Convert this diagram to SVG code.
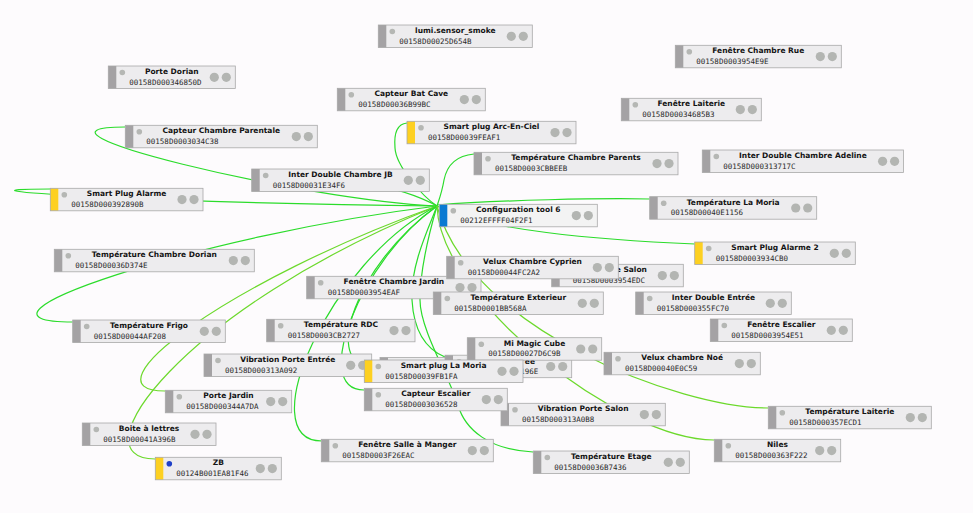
<svg xmlns="http://www.w3.org/2000/svg" width="973" height="513" viewBox="0 0 973 513">
<style>
.bg{fill:#fdfbfd}
.bx{fill:#edecee}
.ol{fill:none;stroke:#a9a9a9;stroke-width:0.8}
.br{fill:#a4a2a4}
.yl{fill:#fdd021}
.bl{fill:#0a7ad2}
.d{fill:#b5b7b4}
.db{fill:#1f40c8}
.p{fill:#b3b5b2}
.t{font-family:"DejaVu Sans",Verdana,sans-serif;font-weight:bold;font-size:7.5px;fill:#141414;text-anchor:middle}
.i{font-family:"DejaVu Sans Mono","Liberation Mono",monospace;font-size:7.5px;fill:#2a2a2a}
.e1{fill:none;stroke:#2bdc2b;stroke-width:1.2}
.e2{fill:none;stroke:#6cd92c;stroke-width:1.2}
</style>
<rect class="bg" width="973" height="513"/>
<g id="edges">
<path class="e1" d="M125,127 C0,127 300,200 437,206"/>
<path class="e1" d="M50,189 C-75,189 150,203 437,206"/>
<path class="e1" d="M252,171 C320,171 400,185 437,206"/>
<path class="e1" d="M407,123 C396,124 394,136 395,148 C396,166 422,196 437,206"/>
<path class="e1" d="M474,154 C452,156 446,170 444,180 C442,192 439,200 437,206"/>
<path class="e1" d="M437,205 C500,200 600,198 650,199"/>
<path class="e1" d="M437,206 C480,230 600,240 695,244"/>
<path class="e1" d="M73,322 C-60,322 200,235 437,206"/>
<path class="e2" d="M165,391 C80,391 230,280 437,206"/>
<path class="e2" d="M155,459 C75,459 180,310 437,206"/>
<path class="e1" d="M322,441 C250,441 330,260 437,206"/>
<path class="e1" d="M364,390 C310,390 360,260 437,206"/>
<path class="e1" d="M364,362 C330,362 350,270 437,206"/>
<path class="e1" d="M533,452 C490,450 465,430 458,405 C451,380 420,330 420,300 C420,270 430,230 437,206"/>
<path class="e1" d="M445,357 C428,350 414,335 412,300 C410,265 430,225 437,206"/>
<path class="e2" d="M714,440 C620,440 440,300 437,206"/>
<path class="e2" d="M768,408 C680,408 470,330 437,206"/>
</g>
<g id="n-smoke" transform="translate(378.3,25)"><rect class="bx" width="154" height="22.5"/><rect class="br" width="8" height="22.5"/><rect class="ol" width="154" height="22.5"/><circle class="d" cx="14" cy="6.5" r="2.8"/><circle class="p" cx="133" cy="11.3" r="4.6"/><circle class="p" cx="145" cy="11.3" r="4.6"/><text class="t" x="77" y="8.2">lumi.sensor_smoke</text><text class="i" x="21" y="18.8">00158D00025D654B</text></g>
<g id="n-porte-dorian" transform="translate(108.3,66)"><rect class="bx" width="127" height="22.5"/><rect class="br" width="8" height="22.5"/><rect class="ol" width="127" height="22.5"/><circle class="d" cx="14" cy="6.5" r="2.8"/><circle class="p" cx="106" cy="11.3" r="4.6"/><circle class="p" cx="118" cy="11.3" r="4.6"/><text class="t" x="63.5" y="8.2">Porte Dorian</text><text class="i" x="21" y="18.8">00158D000346850D</text></g>
<g id="n-bat-cave" transform="translate(337.3,88.3)"><rect class="bx" width="148" height="22.5"/><rect class="br" width="8" height="22.5"/><rect class="ol" width="148" height="22.5"/><circle class="d" cx="14" cy="6.5" r="2.8"/><circle class="p" cx="127" cy="11.3" r="4.6"/><circle class="p" cx="139" cy="11.3" r="4.6"/><text class="t" x="74" y="8.2">Capteur Bat Cave</text><text class="i" x="21" y="18.8">00158D00036B99BC</text></g>
<g id="n-ccp" transform="translate(125.3,125.3)"><rect class="bx" width="192" height="22.5"/><rect class="br" width="8" height="22.5"/><rect class="ol" width="192" height="22.5"/><circle class="d" cx="14" cy="6.5" r="2.8"/><circle class="p" cx="171" cy="11.3" r="4.6"/><circle class="p" cx="183" cy="11.3" r="4.6"/><text class="t" x="96" y="8.2">Capteur Chambre Parentale</text><text class="i" x="21" y="18.8">00158D0003034C38</text></g>
<g id="n-arc" transform="translate(407,121.3)"><rect class="bx" width="169" height="22.5"/><rect class="yl" width="8" height="22.5"/><rect class="ol" width="169" height="22.5"/><circle class="d" cx="14" cy="6.5" r="2.8"/><circle class="p" cx="148" cy="11.3" r="4.6"/><circle class="p" cx="160" cy="11.3" r="4.6"/><text class="t" x="84.5" y="8.2">Smart plug Arc-En-Ciel</text><text class="i" x="21" y="18.8">00158D00039FEAF1</text></g>
<g id="n-tcp" transform="translate(474,152.3)"><rect class="bx" width="204" height="22.5"/><rect class="br" width="8" height="22.5"/><rect class="ol" width="204" height="22.5"/><circle class="d" cx="14" cy="6.5" r="2.8"/><circle class="p" cx="183" cy="11.3" r="4.6"/><circle class="p" cx="195" cy="11.3" r="4.6"/><text class="t" x="102" y="8.2">Température Chambre Parents</text><text class="i" x="21" y="18.8">00158D0003CBBEEB</text></g>
<g id="n-fcr" transform="translate(675.3,45.3)"><rect class="bx" width="166" height="22.5"/><rect class="br" width="8" height="22.5"/><rect class="ol" width="166" height="22.5"/><circle class="d" cx="14" cy="6.5" r="2.8"/><circle class="p" cx="145" cy="11.3" r="4.6"/><circle class="p" cx="157" cy="11.3" r="4.6"/><text class="t" x="83" y="8.2">Fenêtre Chambre Rue</text><text class="i" x="21" y="18.8">00158D0003954E9E</text></g>
<g id="n-flait" transform="translate(621.3,98.3)"><rect class="bx" width="140" height="22.5"/><rect class="br" width="8" height="22.5"/><rect class="ol" width="140" height="22.5"/><circle class="d" cx="14" cy="6.5" r="2.8"/><circle class="p" cx="119" cy="11.3" r="4.6"/><circle class="p" cx="131" cy="11.3" r="4.6"/><text class="t" x="70" y="8.2">Fenêtre Laiterie</text><text class="i" x="21" y="18.8">00158D00034685B3</text></g>
<g id="n-idca" transform="translate(702.3,150)"><rect class="bx" width="201.3" height="22.5"/><rect class="br" width="8" height="22.5"/><rect class="ol" width="201.3" height="22.5"/><circle class="d" cx="14" cy="6.5" r="2.8"/><circle class="p" cx="180.3" cy="11.3" r="4.6"/><circle class="p" cx="192.3" cy="11.3" r="4.6"/><text class="t" x="100.6" y="8.2">Inter Double Chambre Adeline</text><text class="i" x="21" y="18.8">00158D000313717C</text></g>
<g id="n-idjb" transform="translate(251.7,169)"><rect class="bx" width="177.6" height="22.5"/><rect class="br" width="8" height="22.5"/><rect class="ol" width="177.6" height="22.5"/><circle class="d" cx="14" cy="6.5" r="2.8"/><circle class="p" cx="156.6" cy="11.3" r="4.6"/><circle class="p" cx="168.6" cy="11.3" r="4.6"/><text class="t" x="88.8" y="8.2">Inter Double Chambre JB</text><text class="i" x="21" y="18.8">00158D00031E34F6</text></g>
<g id="n-spa" transform="translate(50.3,188.3)"><rect class="bx" width="152.7" height="22.5"/><rect class="yl" width="8" height="22.5"/><rect class="ol" width="152.7" height="22.5"/><circle class="d" cx="14" cy="6.5" r="2.8"/><circle class="p" cx="131.7" cy="11.3" r="4.6"/><circle class="p" cx="143.7" cy="11.3" r="4.6"/><text class="t" x="76.3" y="8.2">Smart Plug Alarme</text><text class="i" x="21" y="18.8">00158D000392890B</text></g>
<g id="n-coord" transform="translate(439.3,204.3)"><rect class="bx" width="158" height="22.5" style="fill:#f3f3f3"/><rect class="bl" width="8" height="22.5"/><rect class="ol" width="158" height="22.5"/><circle class="d" cx="14" cy="6.5" r="2.8"/><circle class="p" cx="137" cy="11.3" r="4.6"/><circle class="p" cx="149" cy="11.3" r="4.6"/><text class="t" x="79" y="8.2">Configuration tool 6</text><text class="i" x="21" y="18.8">00212EFFFF04F2F1</text></g>
<g id="n-tlm" transform="translate(649.7,196.7)"><rect class="bx" width="167" height="22.5"/><rect class="br" width="8" height="22.5"/><rect class="ol" width="167" height="22.5"/><circle class="d" cx="14" cy="6.5" r="2.8"/><circle class="p" cx="146" cy="11.3" r="4.6"/><circle class="p" cx="158" cy="11.3" r="4.6"/><text class="t" x="83.5" y="8.2">Température La Moria</text><text class="i" x="21" y="18.8">00158D00040E1156</text></g>
<g id="n-spa2" transform="translate(694.7,242)"><rect class="bx" width="160.6" height="22.5"/><rect class="yl" width="8" height="22.5"/><rect class="ol" width="160.6" height="22.5"/><circle class="d" cx="14" cy="6.5" r="2.8"/><circle class="p" cx="139.6" cy="11.3" r="4.6"/><circle class="p" cx="151.6" cy="11.3" r="4.6"/><text class="t" x="80.3" y="8.2">Smart Plug Alarme 2</text><text class="i" x="21" y="18.8">00158D0003934CB0</text></g>
<g id="n-tcd" transform="translate(54.3,249.3)"><rect class="bx" width="200" height="22.5"/><rect class="br" width="8" height="22.5"/><rect class="ol" width="200" height="22.5"/><circle class="d" cx="14" cy="6.5" r="2.8"/><circle class="p" cx="179" cy="11.3" r="4.6"/><circle class="p" cx="191" cy="11.3" r="4.6"/><text class="t" x="100" y="8.2">Température Chambre Dorian</text><text class="i" x="21" y="18.8">00158D00036D374E</text></g>
<g id="n-fcj" transform="translate(306.7,276.3)"><rect class="bx" width="174.3" height="22.5"/><rect class="br" width="8" height="22.5"/><rect class="ol" width="174.3" height="22.5"/><circle class="d" cx="14" cy="6.5" r="2.8"/><circle class="p" cx="153.3" cy="11.3" r="4.6"/><circle class="p" cx="165.3" cy="11.3" r="4.6"/><text class="t" x="87.2" y="8.2">Fenêtre Chambre Jardin</text><text class="i" x="21" y="18.8">00158D0003954EAF</text></g>
<g id="n-fsalon" transform="translate(551.7,264.3)"><rect class="bx" width="131.6" height="22.5"/><rect class="br" width="8" height="22.5"/><rect class="ol" width="131.6" height="22.5"/><circle class="d" cx="14" cy="6.5" r="2.8"/><circle class="p" cx="110.6" cy="11.3" r="4.6"/><circle class="p" cx="122.6" cy="11.3" r="4.6"/><text class="t" x="65.8" y="8.2">Fenêtre Salon</text><text class="i" x="21" y="18.8">00158D0003954EDC</text></g>
<g id="n-vcc" transform="translate(446.7,256.3)"><rect class="bx" width="171.6" height="22.5"/><rect class="br" width="8" height="22.5"/><rect class="ol" width="171.6" height="22.5"/><circle class="d" cx="14" cy="6.5" r="2.8"/><circle class="p" cx="150.6" cy="11.3" r="4.6"/><circle class="p" cx="162.6" cy="11.3" r="4.6"/><text class="t" x="85.8" y="8.2">Velux Chambre Cyprien</text><text class="i" x="21" y="18.8">00158D00044FC2A2</text></g>
<g id="n-text" transform="translate(433.3,292)"><rect class="bx" width="170" height="22.5"/><rect class="br" width="8" height="22.5"/><rect class="ol" width="170" height="22.5"/><circle class="d" cx="14" cy="6.5" r="2.8"/><circle class="p" cx="149" cy="11.3" r="4.6"/><circle class="p" cx="161" cy="11.3" r="4.6"/><text class="t" x="85" y="8.2">Température Exterieur</text><text class="i" x="21" y="18.8">00158D0001BB568A</text></g>
<g id="n-ide" transform="translate(635.7,292)"><rect class="bx" width="155.6" height="22.5"/><rect class="br" width="8" height="22.5"/><rect class="ol" width="155.6" height="22.5"/><circle class="d" cx="14" cy="6.5" r="2.8"/><circle class="p" cx="134.6" cy="11.3" r="4.6"/><circle class="p" cx="146.6" cy="11.3" r="4.6"/><text class="t" x="77.8" y="8.2">Inter Double Entrée</text><text class="i" x="21" y="18.8">00158D000355FC70</text></g>
<g id="n-fesc" transform="translate(710.3,319)"><rect class="bx" width="142" height="22.5"/><rect class="br" width="8" height="22.5"/><rect class="ol" width="142" height="22.5"/><circle class="d" cx="14" cy="6.5" r="2.8"/><circle class="p" cx="121" cy="11.3" r="4.6"/><circle class="p" cx="133" cy="11.3" r="4.6"/><text class="t" x="71" y="8.2">Fenêtre Escalier</text><text class="i" x="21" y="18.8">00158D0003954E51</text></g>
<g id="n-frigo" transform="translate(72.7,320)"><rect class="bx" width="152.6" height="22.5"/><rect class="br" width="8" height="22.5"/><rect class="ol" width="152.6" height="22.5"/><circle class="d" cx="14" cy="6.5" r="2.8"/><circle class="p" cx="131.6" cy="11.3" r="4.6"/><circle class="p" cx="143.6" cy="11.3" r="4.6"/><text class="t" x="76.3" y="8.2">Température Frigo</text><text class="i" x="21" y="18.8">00158D00044AF208</text></g>
<g id="n-rdc" transform="translate(266.7,319.3)"><rect class="bx" width="148.3" height="22.5"/><rect class="br" width="8" height="22.5"/><rect class="ol" width="148.3" height="22.5"/><circle class="d" cx="14" cy="6.5" r="2.8"/><circle class="p" cx="127.3" cy="11.3" r="4.6"/><circle class="p" cx="139.3" cy="11.3" r="4.6"/><text class="t" x="74.2" y="8.2">Température RDC</text><text class="i" x="21" y="18.8">00158D0003CB2727</text></g>
<g id="n-noe" transform="translate(604,352.3)"><rect class="bx" width="156.3" height="22.5"/><rect class="br" width="8" height="22.5"/><rect class="ol" width="156.3" height="22.5"/><circle class="d" cx="14" cy="6.5" r="2.8"/><circle class="p" cx="135.3" cy="11.3" r="4.6"/><circle class="p" cx="147.3" cy="11.3" r="4.6"/><text class="t" x="78.2" y="8.2">Velux chambre Noé</text><text class="i" x="21" y="18.8">00158D00040E0C59</text></g>
<g id="n-vpe" transform="translate(204,354)"><rect class="bx" width="167.7" height="22.5"/><rect class="br" width="8" height="22.5"/><rect class="ol" width="167.7" height="22.5"/><circle class="d" cx="14" cy="6.5" r="2.8"/><circle class="p" cx="146.7" cy="11.3" r="4.6"/><circle class="p" cx="158.7" cy="11.3" r="4.6"/><text class="t" x="83.8" y="8.2">Vibration Porte Entrée</text><text class="i" x="21" y="18.8">00158D000313A092</text></g>
<g id="n-hidden-a" transform="translate(380,357.5)"><rect class="bx" width="140" height="22.5"/><rect class="br" width="8" height="22.5"/><rect class="ol" width="140" height="22.5"/></g>
<g id="n-hidden-b" transform="translate(445,355.2)"><rect class="bx" width="126.7" height="22.5"/><rect class="br" width="8" height="22.5"/><rect class="ol" width="126.7" height="22.5"/><circle class="d" cx="14" cy="6.5" r="2.8"/><circle class="p" cx="105.7" cy="11.3" r="4.6"/><circle class="p" cx="117.7" cy="11.3" r="4.6"/><text class="t" x="90" y="8.6" style="text-anchor:end">ee</text><text class="i" x="93.3" y="18.8" style="text-anchor:end">196E</text></g>
<g id="n-cube" transform="translate(467.3,337.7)"><rect class="bx" width="134.4" height="22.5"/><rect class="br" width="8" height="22.5"/><rect class="ol" width="134.4" height="22.5"/><circle class="d" cx="14" cy="6.5" r="2.8"/><circle class="p" cx="113.4" cy="11.3" r="4.6"/><circle class="p" cx="125.4" cy="11.3" r="4.6"/><text class="t" x="67.2" y="8.2">Mi Magic Cube</text><text class="i" x="21" y="18.8">00158D00027D6C9B</text></g>
<g id="n-splm" transform="translate(364.3,360)"><rect class="bx" width="158.7" height="22.5"/><rect class="yl" width="8" height="22.5"/><rect class="ol" width="158.7" height="22.5"/><circle class="d" cx="14" cy="6.5" r="2.8"/><circle class="p" cx="137.7" cy="11.3" r="4.6"/><circle class="p" cx="149.7" cy="11.3" r="4.6"/><text class="t" x="79.3" y="8.2">Smart plug La Moria</text><text class="i" x="21" y="18.8">00158D00039FB1FA</text></g>
<g id="n-vps" transform="translate(501,403.3)"><rect class="bx" width="164.3" height="22.5"/><rect class="br" width="8" height="22.5"/><rect class="ol" width="164.3" height="22.5"/><circle class="d" cx="14" cy="6.5" r="2.8"/><circle class="p" cx="143.3" cy="11.3" r="4.6"/><circle class="p" cx="155.3" cy="11.3" r="4.6"/><text class="t" x="82.2" y="8.2">Vibration Porte Salon</text><text class="i" x="21" y="18.8">00158D000313A0B8</text></g>
<g id="n-cesc" transform="translate(364.3,388.3)"><rect class="bx" width="143" height="22.5"/><rect class="br" width="8" height="22.5"/><rect class="ol" width="143" height="22.5"/><circle class="d" cx="14" cy="6.5" r="2.8"/><circle class="p" cx="122" cy="11.3" r="4.6"/><circle class="p" cx="134" cy="11.3" r="4.6"/><text class="t" x="71.5" y="8.2">Capteur Escalier</text><text class="i" x="21" y="18.8">00158D0003036528</text></g>
<g id="n-pj" transform="translate(165.3,390.3)"><rect class="bx" width="126.4" height="22.5"/><rect class="br" width="8" height="22.5"/><rect class="ol" width="126.4" height="22.5"/><circle class="d" cx="14" cy="6.5" r="2.8"/><circle class="p" cx="105.4" cy="11.3" r="4.6"/><circle class="p" cx="117.4" cy="11.3" r="4.6"/><text class="t" x="63.2" y="8.2">Porte Jardin</text><text class="i" x="21" y="18.8">00158D000344A7DA</text></g>
<g id="n-boite" transform="translate(82.3,423)"><rect class="bx" width="133.7" height="22.5"/><rect class="br" width="8" height="22.5"/><rect class="ol" width="133.7" height="22.5"/><circle class="d" cx="14" cy="6.5" r="2.8"/><circle class="p" cx="112.7" cy="11.3" r="4.6"/><circle class="p" cx="124.7" cy="11.3" r="4.6"/><text class="t" x="66.8" y="8.2">Boite à lettres</text><text class="i" x="21" y="18.8">00158D00041A396B</text></g>
<g id="n-zb" transform="translate(155.3,457.3)"><rect class="bx" width="126" height="22.5"/><rect class="yl" width="8" height="22.5"/><rect class="ol" width="126" height="22.5"/><circle class="db" cx="14" cy="6.5" r="2.8"/><circle class="p" cx="105" cy="11.3" r="4.6"/><circle class="p" cx="117" cy="11.3" r="4.6"/><text class="t" x="63" y="8.2">ZB</text><text class="i" x="21" y="18.8">00124B001EA81F46</text></g>
<g id="n-fsam" transform="translate(321.3,439.3)"><rect class="bx" width="172" height="22.5"/><rect class="br" width="8" height="22.5"/><rect class="ol" width="172" height="22.5"/><circle class="d" cx="14" cy="6.5" r="2.8"/><circle class="p" cx="151" cy="11.3" r="4.6"/><circle class="p" cx="163" cy="11.3" r="4.6"/><text class="t" x="86" y="8.2">Fenêtre Salle à Manger</text><text class="i" x="21" y="18.8">00158D0003F26EAC</text></g>
<g id="n-tetage" transform="translate(533.3,451)"><rect class="bx" width="156" height="22.5"/><rect class="br" width="8" height="22.5"/><rect class="ol" width="156" height="22.5"/><circle class="d" cx="14" cy="6.5" r="2.8"/><circle class="p" cx="135" cy="11.3" r="4.6"/><circle class="p" cx="147" cy="11.3" r="4.6"/><text class="t" x="78" y="8.2">Température Etage</text><text class="i" x="21" y="18.8">00158D00036B7436</text></g>
<g id="n-tlait" transform="translate(768.3,406.3)"><rect class="bx" width="163" height="22.5"/><rect class="br" width="8" height="22.5"/><rect class="ol" width="163" height="22.5"/><circle class="d" cx="14" cy="6.5" r="2.8"/><circle class="p" cx="142" cy="11.3" r="4.6"/><circle class="p" cx="154" cy="11.3" r="4.6"/><text class="t" x="81.5" y="8.2">Température Laiterie</text><text class="i" x="21" y="18.8">00158D000357ECD1</text></g>
<g id="n-niles" transform="translate(714.3,439.3)"><rect class="bx" width="126.4" height="22.5"/><rect class="br" width="8" height="22.5"/><rect class="ol" width="126.4" height="22.5"/><circle class="d" cx="14" cy="6.5" r="2.8"/><circle class="p" cx="105.4" cy="11.3" r="4.6"/><circle class="p" cx="117.4" cy="11.3" r="4.6"/><text class="t" x="63.2" y="8.2">Niles</text><text class="i" x="21" y="18.8">00158D000363F222</text></g>
</svg>
